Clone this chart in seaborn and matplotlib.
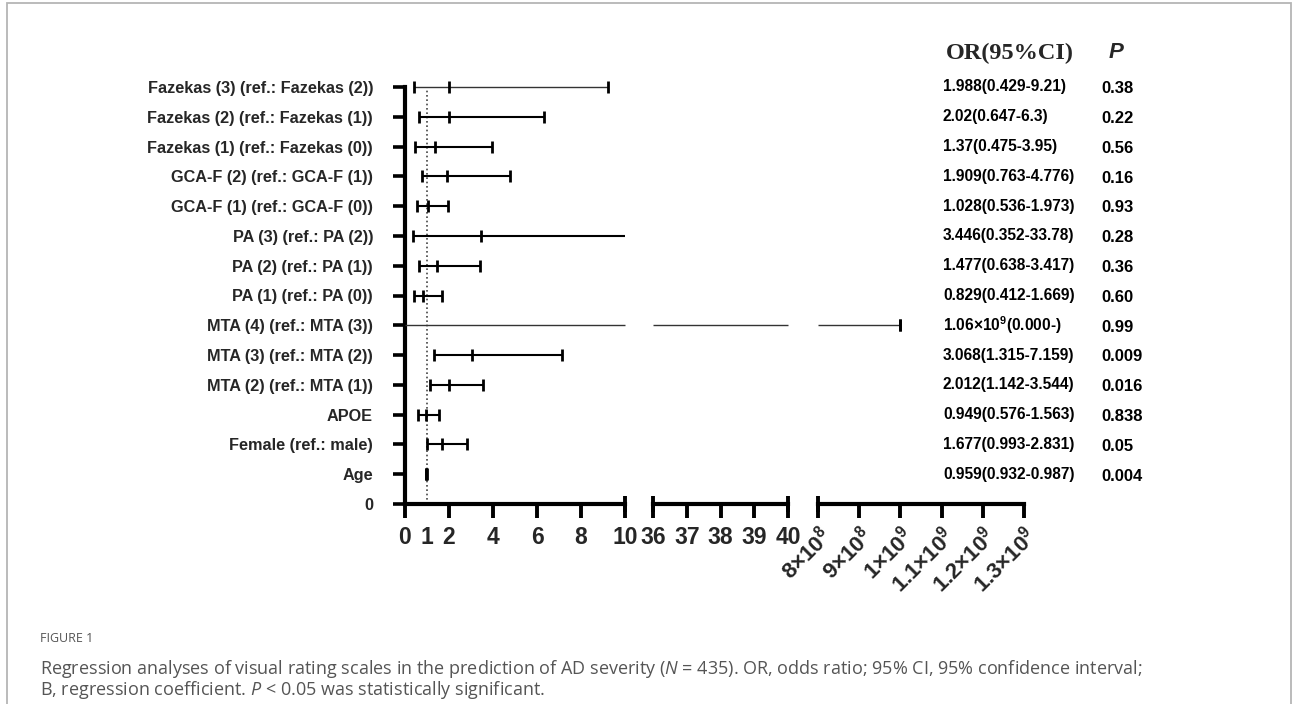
import numpy as np
import matplotlib
matplotlib.use("Agg")
import matplotlib.pyplot as plt
import matplotlib.transforms as mtransforms
from matplotlib.patches import Rectangle
import seaborn as sns

# ---------------- data (bottom row first) ----------------
labels = ["0", "Age", "Female (ref.: male)", "APOE",
          "MTA (2) (ref.: MTA (1))", "MTA (3) (ref.: MTA (2))",
          "MTA (4) (ref.: MTA (3))", "PA (1) (ref.: PA (0))",
          "PA (2) (ref.: PA (1))", "PA (3) (ref.: PA (2))",
          "GCA-F (1) (ref.: GCA-F (0))", "GCA-F (2) (ref.: GCA-F (1))",
          "Fazekas (1) (ref.: Fazekas (0))", "Fazekas (2) (ref.: Fazekas (1))",
          "Fazekas (3) (ref.: Fazekas (2))"]
# plotted values per row (row 0 is the empty "0" row)
or_vals = [np.nan, 0.959, 1.677, 0.949, 2.012, 3.068, 1.0e9, 0.829, 1.477,
           3.446, 1.028, 1.909, 1.37, 2.02, 1.988]
ci_low = [np.nan, 0.932, 0.993, 0.576, 1.142, 1.315, 0.0, 0.412, 0.638,
          0.352, 0.536, 0.763, 0.475, 0.647, 0.429]
ci_high = [np.nan, 0.987, 2.831, 1.563, 3.544, 7.159, 1.0e9, 1.669, 3.417,
           33.78, 1.973, 4.776, 3.95, 6.3, 9.21]
or_text = ["", "0.959(0.932-0.987)", "1.677(0.993-2.831)", "0.949(0.576-1.563)",
           "2.012(1.142-3.544)", "3.068(1.315-7.159)",
           r"1.06×10$^{9}$(0.000-)", "0.829(0.412-1.669)",
           "1.477(0.638-3.417)", "3.446(0.352-33.78)", "1.028(0.536-1.973)",
           "1.909(0.763-4.776)", "1.37(0.475-3.95)", "2.02(0.647-6.3)",
           "1.988(0.429-9.21)"]
p_text = ["", "0.004", "0.05", "0.838", "0.016", "0.009", "0.99", "0.60",
          "0.36", "0.28", "0.93", "0.16", "0.56", "0.22", "0.38"]

seg1_ticks = [0, 2, 4, 6, 8, 10]
seg2_ticks = [36, 37, 38, 39, 40]
seg3_ticks = [8e8, 9e8, 1e9, 1.1e9, 1.2e9, 1.3e9]
seg3_labels = [r"8×10$^{8}$", r"9×10$^{8}$", r"1×10$^{9}$",
               r"1.1×10$^{9}$", r"1.2×10$^{9}$", r"1.3×10$^{9}$"]

caption_head = "FIGURE 1"
caption_1 = ("Regression analyses of visual rating scales in the prediction of AD "
             "severity ($N$ = 435). OR, odds ratio; 95% CI, 95% confidence interval;")
caption_2 = "B, regression coefficient. $P$ < 0.05 was statistically significant."

# ---------------- style ----------------
sns.set_theme(style="white")
plt.rcParams["font.family"] = ["Liberation Sans", "DejaVu Sans"]
plt.rcParams["mathtext.fontset"] = "custom"
plt.rcParams["mathtext.rm"] = "Liberation Sans:bold"
plt.rcParams["mathtext.it"] = "Liberation Sans:italic:bold"
plt.rcParams["mathtext.bf"] = "Liberation Sans:bold"

W, H = 1293, 704
fig = plt.figure(figsize=(W / 100, H / 100), dpi=100)
fig.patch.set_facecolor("white")

def box(x0, x1, y_top=87, y_bot=504):
    return [x0 / W, 1 - y_bot / H, (x1 - x0) / W, (y_bot - y_top) / H]

ax1 = fig.add_axes(box(405, 625))
ax2 = fig.add_axes(box(653, 788))
ax3 = fig.add_axes(box(818, 1024))
axes = [(ax1, 0, 10), (ax2, 36, 40), (ax3, 8e8, 1.3e9)]

thin_rows = {"Fazekas (3) (ref.: Fazekas (2))", "MTA (4) (ref.: MTA (3))"}
rows = np.arange(len(labels))

for ax, xmin, xmax in axes:
    ax.set_xlim(xmin, xmax)
    ax.set_ylim(0, 14)
    ax.set_facecolor("none")
    for sp in ["top", "right", "left"]:
        ax.spines[sp].set_visible(False)
    ax.spines["bottom"].set_linewidth(3.0)
    ax.spines["bottom"].set_color("black")
    for i in rows[1:]:
        lo, hi = ci_low[i], ci_high[i]
        a, b = max(lo, xmin), min(hi, xmax)
        thin = labels[i] in thin_rows
        if a < b:
            ax.hlines(i, a, b, color="#333333" if thin else "black",
                      lw=1.0 if thin else 1.5, clip_on=False, zorder=3)
        for v in (lo, hi):
            if xmin <= v <= xmax and not (v == xmin and lo == 0):
                ax.plot([v], [i], marker="|", ms=8.5, mew=2.0, color="black",
                        clip_on=False, zorder=4)
    # OR markers
    sel = [i for i in rows[1:] if xmin <= or_vals[i] <= xmax]
    if sel:
        sns.scatterplot(x=[or_vals[i] for i in sel], y=[float(i) for i in sel],
                        marker="|", s=75, linewidth=2.0, color="black",
                        ax=ax, zorder=4, clip_on=False, legend=False)
    ax.tick_params(axis="x", which="major", direction="out", length=10,
                   width=2.8, color="black", bottom=True, pad=6)

# segment 1 (with y axis)
ax1.spines["left"].set_visible(True)
ax1.spines["left"].set_linewidth(3.0)
ax1.spines["left"].set_color("black")
ax1.set_yticks(rows)
ax1.set_yticklabels(labels, fontsize=11.7, fontweight="bold")
ax1.tick_params(axis="y", direction="out", length=9, width=2.6,
                color="black", left=True, pad=14)
ax1.set_xticks(seg1_ticks)
ax1.set_xticklabels([str(t) for t in seg1_ticks], fontsize=16.5,
                    fontweight="bold")
ax1.set_xticks([1], minor=True)
ax1.set_xticklabels(["1"], minor=True, fontsize=16.5, fontweight="bold")
ax1.tick_params(axis="x", which="minor", length=10, width=0, pad=6,
                bottom=True)
ax1.vlines(1, 0, 14, colors="#444444", linestyles=(0, (1, 1.6)), lw=1.2,
           zorder=2)

ax2.set_yticks([])
ax2.set_xticks(seg2_ticks)
ax2.set_xticklabels([str(t) for t in seg2_ticks], fontsize=16.5,
                    fontweight="bold")

ax3.set_yticks([])
ax3.set_xticks(seg3_ticks)
ax3.set_xticklabels(seg3_labels, fontsize=16, fontweight="bold",
                    rotation=45, ha="right", va="top",
                    rotation_mode="anchor")
ax3.tick_params(axis="x", pad=4)

# end caps of broken axis segments
for ax, v in [(ax1, 10), (ax2, 36), (ax2, 40), (ax3, 8e8)]:
    ax.plot([v], [0], marker="|", ms=11, mew=2.8, color="black",
            clip_on=False, zorder=5)

# ---------------- text columns ----------------
trans = mtransforms.blended_transform_factory(fig.transFigure, ax1.transData)
for i in rows[1:]:
    fig.text(943 / W, i, or_text[i], transform=trans, ha="left",
             va="center", fontsize=11.2, fontweight="bold", color="black")
    fig.text(1101 / W, i - 0.06, p_text[i], transform=trans, ha="left",
             va="center", fontsize=12, fontweight="bold", color="black")

fig.text(1010 / W, 1 - 53 / H, "OR(95%CI)", ha="center", va="center",
         fontsize=17.5, fontweight="bold", family="Liberation Serif")
fig.text(1116 / W, 1 - 53 / H, "P", ha="center", va="center", fontsize=16,
         fontweight="bold", style="italic")

# ---------------- caption and frame ----------------
fig.patches.append(Rectangle((7 / W, -0.05), (1291 - 7) / W, 1.05 - 3 / H,
                             transform=fig.transFigure, fill=False,
                             edgecolor="#b5b5b5", lw=1.3))
cap_font = ["Open Sans", "DejaVu Sans"]
plt.rcParams["mathtext.it"] = "Open Sans:italic"
fig.text(40 / W, 1 - 639 / H, caption_head, ha="left", va="center",
         fontsize=9, color="#555555", family=cap_font)
fig.text(40 / W, 1 - 669 / H, caption_1, ha="left", va="center",
         fontsize=13, color="#555555", family=cap_font)
fig.text(40 / W, 1 - 690 / H, caption_2, ha="left", va="center",
         fontsize=13, color="#555555", family=cap_font)

fig.savefig("out.png", dpi=100, facecolor="white")
